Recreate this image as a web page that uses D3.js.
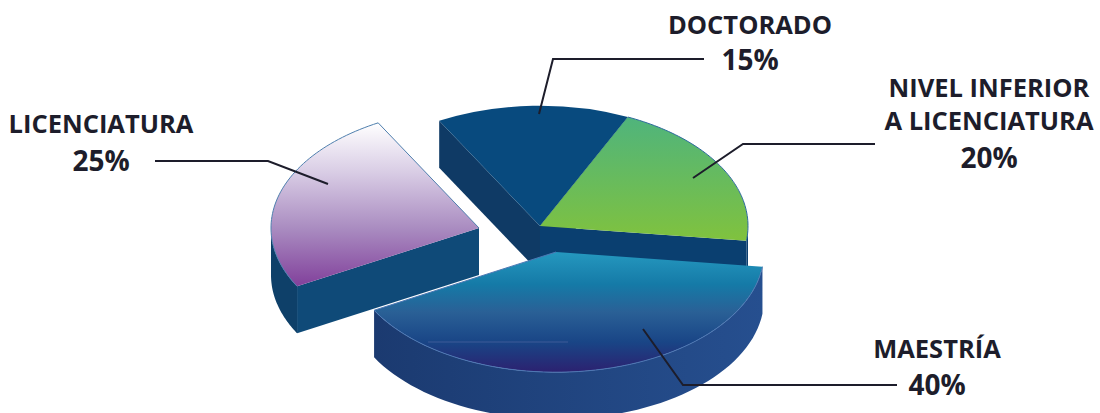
<!DOCTYPE html>
<html>
<head>
<meta charset="utf-8">
<script src="https://cdn.jsdelivr.net/npm/d3@7"></script>
<style>
  html, body { margin: 0; padding: 0; background: #fff; }
  svg { display: block; }
  text { font-family: "Open Sans", sans-serif; font-weight: 700; fill: #1d1d2b; }
</style>
</head>
<body>
<svg id="chart" width="1100" height="413"></svg>
<script>
// chart values, in pie order (clockwise from the doctorado wedge)
const categories = ["DOCTORADO", "NIVEL INFERIOR A LICENCIATURA", "MAESTRÍA", "LICENCIATURA"];
const shares = [15, 20, 40, 25];

// where each wedge sits on the page (the two back ones are not pulled out)
const centersX = [540, 540, 556, 479];
const centersY = [226, 226, 252, 228];
const sideColors = [
  ["#0f3d6b", "#0f3d6b"],
  ["#0b3f70", "#0b3f70"],
  ["#1b3a70", "#264f8f"],
  ["#0e4069", "#0e4069"]
];
const cutColors = ["#0f3a65", "#0a3f70", "#1b3a70", "#0f4a78"];
const topStops = [
  [[0, "#084a7e"], [1, "#084a7e"]],
  [[0, "#4fb47c"], [1, "#80c23e"]],
  [[0, "#2598bf"], [0.27, "#157aa7"], [0.5, "#2a6096"], [0.75, "#194586"], [1, "#2c2170"]],
  [[0, "#ffffff"], [0.3, "#d9cde5"], [0.65, "#a98bc0"], [1, "#81409b"]]
];
const edgeColors = [null, "#2c6a9c", "#4d78b4", "#4f7fae"];

// labels and their leaders
const labelLines = [
  ["DOCTORADO", 750, 34], ["15%", 750, 70],
  ["NIVEL INFERIOR", 989, 97], ["A LICENCIATURA", 989, 130], ["20%", 989, 168],
  ["LICENCIATURA", 101, 133], ["25%", 101, 171],
  ["MAESTRÍA", 937, 358], ["40%", 937, 395]
];
const leaders = [
  [[704, 59], [553, 59], [539, 114]],
  [[875, 144], [743, 144], [693, 178]],
  [[155, 161], [268, 161], [328, 184]],
  [[897, 385], [683, 385], [643, 329]]
];

const radiusX = 208;
const squash = 0.578;
const depth = 47;
const rad = d => d * Math.PI / 180;

const svg = d3.select("#chart");
const defs = svg.append("defs");

const pie = d3.pie().sort(null).startAngle(rad(-29)).endAngle(rad(331));
const slices = pie(shares);

// project a pie angle onto the tilted disc
const project = (i, a, r = radiusX, drop = 0) => [
  centersX[i] + r * Math.sin(a),
  centersY[i] - r * squash * Math.cos(a) + drop
];
const line = d3.line();
const arcPoints = (i, a0, a1, drop = 0) =>
  d3.range(0, 61).map(k => project(i, a0 + (a1 - a0) * k / 60, radiusX, drop));

slices.forEach((s, i) => {
  const top = defs.append("linearGradient").attr("id", "top" + i)
    .attr("x1", 0).attr("y1", 0).attr("x2", 0).attr("y2", 1);
  topStops[i].forEach(d => top.append("stop").attr("offset", d[0]).attr("stop-color", d[1]));
  const side = defs.append("linearGradient").attr("id", "side" + i)
    .attr("x1", 0).attr("y1", 0).attr("x2", 1).attr("y2", 0);
  sideColors[i].forEach((c, k) => side.append("stop").attr("offset", k).attr("stop-color", c));
});

const topArc = d3.arc().innerRadius(0).outerRadius(radiusX);
const apex = i => [centersX[i], centersY[i]];

slices.forEach((s, i) => {
  const g = svg.append("g").attr("class", "slice");

  // flat cut faces, only the ones turned to the viewer
  [[s.startAngle, Math.sin(s.startAngle) < 0], [s.endAngle, Math.sin(s.endAngle) > 0]]
    .filter(d => d[1])
    .forEach(d => {
      const outer = project(i, d[0]);
      const outerLow = project(i, d[0], radiusX, depth);
      const low = [centersX[i], centersY[i] + depth];
      g.append("path")
        .attr("d", line([apex(i), outer, outerLow, low]) + "Z")
        .attr("fill", cutColors[i]);
    });

  // curved rim, front half of the disc only
  const a0 = Math.max(s.startAngle, rad(90));
  const a1 = Math.min(s.endAngle, rad(270));
  if (a1 > a0) {
    const rim = arcPoints(i, a0, a1).concat(arcPoints(i, a1, a0, depth));
    g.append("path")
      .attr("d", line(rim) + "Z")
      .attr("fill", "url(#side" + i + ")");
  }

  // top face
  g.append("path")
    .attr("transform", `translate(${centersX[i]},${centersY[i]}) scale(1,${squash})`)
    .attr("d", topArc(s))
    .attr("fill", "url(#top" + i + ")");

  // thin outline along the rim
  if (edgeColors[i]) {
    g.append("path")
      .attr("d", line(arcPoints(i, s.startAngle, s.endAngle)))
      .attr("fill", "none")
      .attr("stroke", edgeColors[i])
      .attr("stroke-width", 1);
  }
  if (i === 3 || i === 2) {
    g.append("path")
      .attr("d", line([project(i, s.endAngle), apex(i)]))
      .attr("fill", "none")
      .attr("stroke", edgeColors[i])
      .attr("stroke-width", 1);
  }
});

// faint seam on the maestria face
svg.append("path")
  .attr("d", line([[centersX[2] - 128, centersY[2] + 90], [centersX[2] + 12, centersY[2] + 90]]))
  .attr("stroke", "#3f5a98")
  .attr("stroke-width", 1)
  .attr("fill", "none");

svg.append("g").selectAll("path")
  .data(leaders)
  .enter()
  .append("path")
  .attr("d", d => line(d))
  .attr("fill", "none")
  .attr("stroke", "#1d1d2b")
  .attr("stroke-width", 2);

svg.append("g").selectAll("text")
  .data(labelLines)
  .enter()
  .append("text")
  .attr("x", d => d[1])
  .attr("y", d => d[2])
  .attr("text-anchor", "middle")
  .attr("font-size", d => d[0].endsWith("%") ? 28 : 25.5)
  .text(d => d[0]);
</script>
</body>
</html>
